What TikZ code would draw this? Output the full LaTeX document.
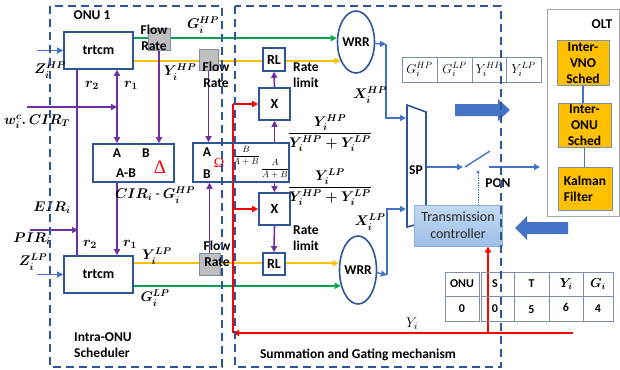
\RequirePackage{fix-cm}
\documentclass[tikz,border=0pt]{standalone}
\usepackage{amsmath}
\usepackage{bm}
\usepackage{fontspec}
\setmainfont{Carlito}
\newfontfamily\serifgr{Liberation Serif}
\usetikzlibrary{arrows.meta,shapes.geometric,calc}
\definecolor{dblue}{HTML}{2F5597}
\definecolor{lblue}{HTML}{4472C4}
\definecolor{pgreen}{HTML}{00A64F}
\definecolor{pyellow}{HTML}{FFC000}
\definecolor{ppurple}{HTML}{7030A0}
\definecolor{pred}{HTML}{FF0000}
\definecolor{pgrey}{HTML}{BFBFBF}
\definecolor{tgrey}{HTML}{7F8FA6}
\definecolor{tctop}{HTML}{C5D8F0}
\definecolor{tcbot}{HTML}{9DBFE8}
\definecolor{tcborder}{HTML}{8FB0DC}
\pgfdeclarelayer{bg}\pgfdeclarelayer{fg}\pgfsetlayers{bg,main,fg}
\begin{document}
\begin{tikzpicture}[x=1pt,y=-1pt,>={Triangle[length=6pt,width=6pt]},
 box/.style={draw=dblue,line width=1.6pt,fill=white,inner sep=0pt,font=\bfseries\fontsize{14}{16}\selectfont},
 frbox/.style={draw=tgrey,line width=0.8pt,fill=pgrey,inner sep=0pt},
 txt/.style={font=\bfseries\fontsize{13.5}{16}\selectfont,align=center,inner sep=0pt},
 mth/.style={font=\boldmath\fontsize{14}{16}\selectfont,inner sep=0pt},
 gl/.style={draw=pgreen,line width=1.8pt},
 yl/.style={draw=pyellow,line width=2pt},
 pl/.style={draw=ppurple,line width=1.6pt},
 rl/.style={draw=pred,line width=1.8pt},
 bl/.style={draw=lblue,line width=1.4pt},
 dbox/.style={draw=dblue,line width=1.8pt,dash pattern=on 8pt off 5pt},
 grid/.style={draw=tgrey,line width=0.8pt},
 ctext/.style={inner sep=0pt,font=\bfseries\fontsize{12}{14}\selectfont},
 ttext/.style={inner sep=0pt,font=\fontsize{13}{15}\selectfont},
 obox/.style={draw=tgrey,line width=1pt,fill=pyellow,inner sep=0pt,font=\bfseries\fontsize{13.5}{16}\selectfont,align=center}
]
\useasboundingbox (0,0) rectangle (620,369);

% ---------------- boxes ----------------
\node[box,minimum width=69pt,minimum height=37pt] (trtcmT) at (98.5,50.5) {trtcm};
\node[box,minimum width=69pt,minimum height=37pt] (trtcmB) at (98.5,274.5) {trtcm};
\node[frbox,minimum width=22pt,minimum height=22pt] (frT) at (159,39) {};
\node[frbox,minimum width=19pt,minimum height=21pt] (frM) at (208.5,59.5) {};
\node[frbox,minimum width=21pt,minimum height=22pt] (frB) at (209.5,264) {};
\node[txt] (frTl) at (154,38) {Flow\\Rate};
\node[txt] (frMl) at (216,75) {Flow\\Rate};
\node[txt] (frBl) at (217,254) {Flow\\Rate};

\node[box,minimum width=81pt,minimum height=38pt] (delta) at (133.5,163) {};
\node[txt] (dA) at (117,153) {A};
\node[txt] (dB) at (146,153) {B};
\node[txt] (dAB) at (126,173) {A-B};
\node[inner sep=0pt,text=pred,font=\serifgr\fontsize{19}{20}\selectfont] (dD) at (160,167) {Δ};

\node[box,fill=none,minimum width=96pt,minimum height=39pt] (omega) at (241,162.5) {};
\node[txt] (oA) at (207,152) {A};
\node[txt] (oB) at (207,174) {B};
\node[inner sep=0pt,text=pred,font=\serifgr\fontsize{14}{16}\selectfont] (oO) at (219,163) {Ω};
\node[inner sep=0pt,font=\fontsize{9}{10}\selectfont] (f1) at (246,156) {$\dfrac{B}{A+B}$};
\node[inner sep=0pt,font=\fontsize{9}{10}\selectfont] (f2) at (275,169) {$\dfrac{A}{A+B}$};

\node[box,minimum width=31pt,minimum height=32pt] (XT) at (274.5,104) {X};
\node[box,minimum width=31pt,minimum height=32pt] (XB) at (274.5,209) {X};
\node[box,minimum width=22pt,minimum height=23pt] (RLT) at (274,59.5) {RL};
\node[box,minimum width=22pt,minimum height=22pt] (RLB) at (274,264) {RL};
\node[txt,align=left,anchor=west] (rlT) at (293,75) {Rate\\limit};
\node[txt,align=left,anchor=west] (rlB) at (293,238) {Rate\\limit};

\node[box,ellipse,minimum width=37pt,minimum height=62pt] (wrrT) at (356,42) {};
\node[txt] (wrrTl) at (wrrT) {WRR};
\node[box,ellipse,minimum width=37pt,minimum height=68pt] (wrrB) at (358,270) {};
\node[txt] (wrrBl) at (wrrB) {WRR};

% SP multiplexer
\draw[draw=dblue,line width=1.6pt,fill=white] (407,105) -- (426,112) -- (426,222) -- (407,227) -- cycle;
\node[txt] (spl) at (416,170) {SP};

\node[draw=tcborder,line width=1pt,top color=tctop,bottom color=tcbot,minimum width=88pt,minimum height=41pt,inner sep=0pt,align=center,font=\fontsize{14}{17}\selectfont,text=black!85] (TC) at (458,225.5) {Transmission\\controller};
\node[txt] (pon) at (498,183) {PON};

% top data table
\draw[grid,fill=white] (402,57) rectangle (541,82);
\draw[grid] (437,57) -- (437,82) (472,57) -- (472,82) (506,57) -- (506,82);
\node[ttext] (t1) at (419.5,69.5) {$G_i^{HP}$};
\node[ttext] (t2) at (454.5,69.5) {$G_i^{LP}$};
\node[ttext] (t3) at (489,69.5) {$Y_i^{HP}$};
\node[ttext] (t4) at (523.5,69.5) {$Y_i^{LP}$};

% OLT
\node[draw=gray!70,line width=0.7pt,minimum width=72pt,minimum height=207pt,inner sep=0pt] (olt) at (583,112.5) {};
\node[txt] (oltl) at (602,24) {OLT};
\node[obox,minimum width=52pt,minimum height=44pt] (ivno) at (583,63) {Inter-\\VNO\\Sched};
\node[obox,minimum width=53pt,minimum height=44pt] (ionu) at (584.5,125) {Inter-\\ONU\\Sched};
\node[obox,minimum width=54pt,minimum height=43pt,align=left] (kal) at (585,188.5) {Kalman\\Filter};

% bottom table
\draw[grid] (445,272) rectangle (479,321);
\draw[grid] (481,272) rectangle (514,321);
\draw[grid] (514,272) rectangle (613,321);
\draw[grid] (445,296) -- (479,296) (481,296) -- (613,296) (549,272) -- (549,321) (583,272) -- (583,321);
\node[ctext] (h1) at (462,284) {ONU};
\node[ctext] (h2) at (495,284) {S};
\node[ctext] (h3) at (531.5,284) {T};
\node[ctext,font=\boldmath\fontsize{13}{15}\selectfont] (h4) at (566,284) {$Y_i$};
\node[ctext,font=\boldmath\fontsize{13}{15}\selectfont] (h5) at (598,284) {$G_i$};
\node[ctext] (v1) at (462,308.5) {0};
\node[ctext] (v2) at (495,308.5) {0};
\node[ctext] (v3) at (531.5,309.5) {5};
\node[ctext] (v4) at (566,307.5) {6};
\node[ctext] (v5) at (598,308.5) {4};

% big arrows
\fill[lblue] (455,104) -- (498,104) -- (498,99) -- (510,110) -- (498,121) -- (498,116) -- (455,116) -- cycle;
\fill[lblue] (568,222) -- (527,222) -- (527,216) -- (515,228) -- (527,240) -- (527,234) -- (568,234) -- cycle;

% ---------------- labels ----------------
\node[txt] (onu1) at (92,15) {ONU 1};
\node[mth] (lzhp) at (50,70) {$Z_i^{HP}$};
\node[mth] (lzlp) at (33,262) {$Z_i^{LP}$};
\node[mth] (lr2a) at (92,85) {$r_2$};
\node[mth] (lr1a) at (131,85) {$r_1$};
\node[mth] (lr2b) at (90,244) {$r_2$};
\node[mth] (lr1b) at (130,244) {$r_1$};
\node[mth] (lw) at (37,122) {$w_i^c.\,CIR_T$};
\node[mth] (leir) at (52,208) {$EIR_i$};
\node[mth] (lpir) at (32,239) {$PIR_i$};
\node[mth] (lcir) at (155,195) {$CIR_i$ - $G_i^{HP}$};
\node[mth] (lghp) at (203,25) {$G_i^{HP}$};
\node[mth] (lyhp) at (180,72) {$Y_i^{HP}$};
\node[mth] (lylp) at (157,256) {$Y_i^{LP}$};
\node[mth] (lglp) at (155,298) {$G_i^{LP}$};
\node[mth] (lxhp) at (370,95) {$X_i^{HP}$};
\node[mth] (lxlp) at (370,222) {$X_i^{LP}$};
\node[mth] (fr1) at (330,133) {$\dfrac{Y_i^{HP}}{Y_i^{HP}+Y_i^{LP}}$};
\node[mth] (fr2) at (330,187) {$\dfrac{Y_i^{LP}}{Y_i^{HP}+Y_i^{LP}}$};
\node[mth,font=\fontsize{14}{16}\selectfont] (lyi) at (412,324) {$Y_i$};
\node[txt,align=left,anchor=west] (intra) at (74,345.5) {Intra-ONU\\Scheduler};
\node[txt] (summ) at (358,355) {Summation and Gating mechanism};

% ---------------- connectors ----------------
\begin{pgfonlayer}{bg}
\coordinate (zhp) at (37,50.5);
\draw[bl,->] (zhp) -- (trtcmT.west);
\coordinate (zlp) at (37,274.5);
\draw[bl,->] (zlp) -- (trtcmB.west);

\coordinate (ghp) at ($(trtcmT.north east)+(0,7)$);
\draw[gl,->] (ghp) -- (ghp -| wrrT.west);
\coordinate (yhp) at ($(trtcmT.south east)+(0,-9)$);
\draw[yl,->] (yhp) -- (yhp -| wrrT.230);
\coordinate (ylp) at ($(trtcmB.north east)+(0,8)$);
\draw[yl,->] (ylp) -- (ylp -| wrrB.west);
\coordinate (glp) at ($(trtcmB.south east)+(0,-8)$);
\draw[gl,->] (glp) -- (glp -| wrrB.222);

\coordinate (r2top) at ($(trtcmT.south west)+(14,0)$);
\coordinate (r2bot) at ($(trtcmB.north west)+(14,0)$);
\draw[pl] (r2top) -- (r2bot);
\coordinate (pir) at (30,230);
\coordinate (j2) at (78,230);
\draw[pl,->] (pir) -- (j2);
\coordinate (j1) at (117,107);
\coordinate (win) at (27,107);
\draw[pl,<->] (trtcmT.south -| j1) -- (delta.north -| j1);
\draw[pl,->] (win) -- (j1);
\draw[pl,->] (delta.south -| j1) -- (trtcmB.north -| j1);
\draw[pl,->] (frT.south) -- (frT.south |- delta.north);
\draw[pl,->] (frM.south) -- (frM.south |- omega.north);
\draw[pl,->] (frB.north) -- (frB.north |- omega.south);
\draw[pl,->] (XT.south |- omega.north) -- (XT.south);
\draw[pl,->] (XT.north) -- (RLT.south);
\draw[pl,->] (XB.north |- omega.south) -- (XB.north);
\draw[pl,->] (XB.south) -- (RLB.north);

\coordinate (c1) at (386,44);
\coordinate (sp1) at (406,118);
\draw[bl,->] (wrrT.-5) -- (c1);
\draw[bl,->] (c1) -- (c1 |- sp1) -- (sp1);
\coordinate (c2) at (387,275);
\coordinate (sp2) at (406,209);
\draw[bl,->] (wrrB.-8) -- (c2);
\draw[bl,->] (c2) -- (c2 |- sp2) -- (sp2);

\coordinate (spo) at (426,167);
\coordinate (sw1) at (463,167);
\coordinate (sw0) at (465,167);
\coordinate (sw2) at (490,151);
\coordinate (sw3) at (489,167);
\coordinate (oltin) at (540,167);
\draw[bl,->] (spo) -- (sw1);
\draw[bl] (sw0) -- (sw2);
\draw[bl,->] (sw3) -- (oltin);
\coordinate (ctl) at (478,170);
\draw[lblue,densely dotted,line width=0.7pt,-{Triangle[length=3pt,width=3pt]}] (TC.north -| ctl) -- (ctl);

\coordinate (rt) at (233,104);
\coordinate (rm) at (233,209);
\coordinate (rb) at (233,333);
\coordinate (rr) at (573,333);
\coordinate (ru) at (488,333);
\draw[rl] (rt) -- (rb);
\draw[rl,->] (rt) -- (XT.west);
\draw[rl,->] (rm) -- (XB.west);
\draw[rl,->] (rr) -- (rb);
\draw[rl,->] (ru) -- (ru |- TC.south);

\draw[bl] (ivno.south) -- (ivno.south |- ionu.north);
\draw[bl] (ionu.south) -- (ionu.south |- kal.north);
\end{pgfonlayer}

% ---------------- dashed frames ----------------
\begin{pgfonlayer}{fg}
\draw[dbox] (50,6) rectangle (222,367);
\draw[dbox] (235,6) rectangle (501,367);
\end{pgfonlayer}
\end{tikzpicture}
\end{document}
